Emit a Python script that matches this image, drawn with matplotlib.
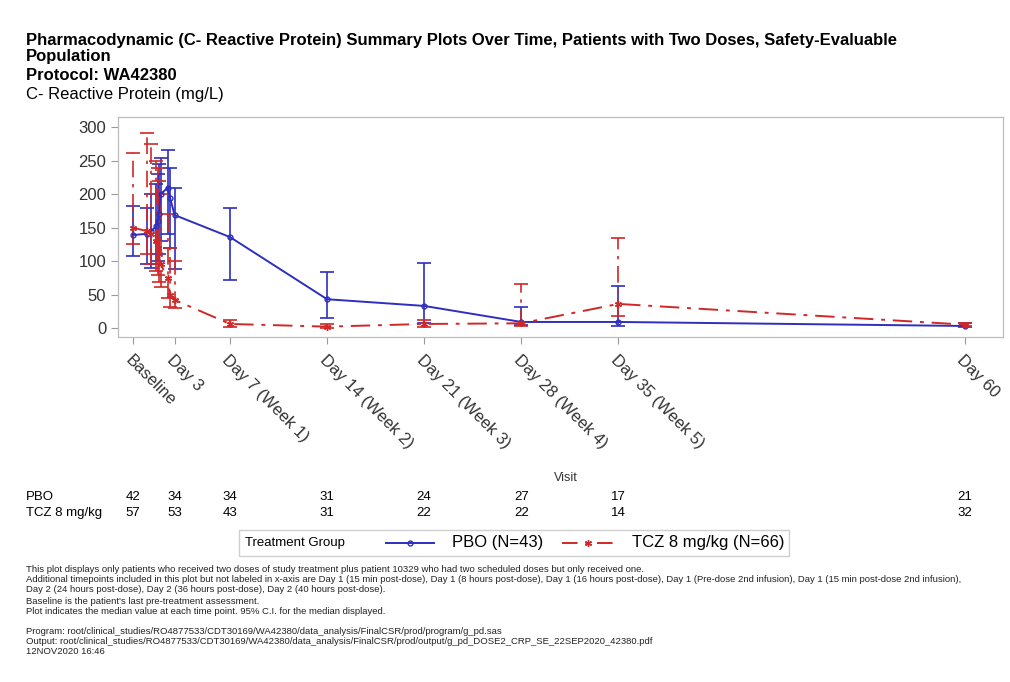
import matplotlib
matplotlib.use('Agg')
import matplotlib.pyplot as plt
import matplotlib.transforms as mtransforms
from matplotlib.lines import Line2D
from matplotlib.patches import Rectangle

plt.rcParams['font.family'] = ['Liberation Sans', 'DejaVu Sans']

# study day of each sampling visit (baseline = 0); Day 1 / Day 2 samples sit between Baseline and Day 3
visit_day = [0, 1.01, 1.33, 1.67, 1.8, 1.85, 2.0, 2.5, 2.67, 3, 7, 14, 21, 28, 35, 60]

# CRP median and 95% CI (mg/L)
pbo_med = [139, 141, 145, 152, 160, 170, 200, 210, 195, 169, 136, 43, 33, 9, 9, 3]
pbo_low = [108, 95, 90, 95, 100, 110, 130, 140, 120, 88, 72, 15, 7, 5, 3, 2]
pbo_high = [183, 180, 200, 215, 230, 245, 254, 267, 240, 209, 179, 84, 97, 31, 63, 7]

tcz_med = [150, 145, 140, 130, 120, 110, 95, 75, 50, 42, 6, 2, 6, 7, 36, 5]
tcz_low = [125, 110, 95, 85, 79, 69, 62, 45, 31, 30, 2, 0, 2, 3, 18, 3]
tcz_high = [262, 292, 275, 250, 240, 220, 200, 170, 120, 100, 12, 6, 12, 66, 134, 8]

tick_day = [0, 3, 7, 14, 21, 28, 35, 60]
tick_lab = ['Baseline', 'Day 3', 'Day 7 (Week 1)', 'Day 14 (Week 2)', 'Day 21 (Week 3)',
            'Day 28 (Week 4)', 'Day 35 (Week 5)', 'Day 60']
n_pbo = [42, 34, 34, 31, 24, 27, 17, 21]
n_tcz = [57, 53, 43, 31, 22, 22, 14, 32]

blue = '#2E2EC0'
red = '#D02828'
grey = '#BDBDBD'
W, H = 1010, 682


def fx(px):
    return px / W


def fy(py):
    return 1 - py / H


fig = plt.figure(figsize=(W / 100, H / 100), dpi=100)
ax = fig.add_axes([fx(118), fy(337), fx(1003) - fx(118), fy(117) - fy(337)])


def draw(med, low, high, color, ls, marker, ms, mfc):
    err = [[m - l for m, l in zip(med, low)], [h - m for m, h in zip(med, high)]]
    line, caps, bars = ax.errorbar(visit_day, med, yerr=err, color=color, lw=1.4,
                                   ls=ls, marker=marker, ms=ms, mfc=mfc, mec=color,
                                   capsize=5, capthick=1.2, elinewidth=1.2)
    if ls != '-':
        line.set_dashes([10, 4, 2, 4])
        for b in bars:
            b.set_linestyle((0, (10, 4, 2, 4)))
    return line


draw(pbo_med, pbo_low, pbo_high, blue, '-', 'o', 3.5, 'none')
draw(tcz_med, tcz_low, tcz_high, red, '-.', (6, 2, 0), 5, red)

ax.set_xlim(-1.08, 62.74)
ax.set_ylim(-13.5, 315.7)
ax.set_yticks([0, 50, 100, 150, 200, 250, 300])
ax.set_xticks(tick_day)
ax.set_xticklabels(tick_lab, rotation=-45, ha='left', va='top', rotation_mode='anchor')
ax.tick_params(axis='both', colors='#9A9A9A', labelcolor='#333333', labelsize=12,
               length=5, width=0.8)
ax.tick_params(axis='x', pad=6)
for s in ax.spines.values():
    s.set_color(grey)
    s.set_linewidth(0.9)

# titles
fig.text(fx(26), fy(40), 'Pharmacodynamic (C- Reactive Protein) Summary Plots Over Time, '
         'Patients with Two Doses, Safety-Evaluable', fontsize=12, fontweight='bold', va='center')
fig.text(fx(26), fy(57), 'Population', fontsize=12, fontweight='bold', va='center')
fig.text(fx(26), fy(76), 'Protocol: WA42380', fontsize=12, fontweight='bold', va='center')
fig.text(fx(26), fy(95), 'C- Reactive Protein (mg/L)', fontsize=12, va='center')

fig.text(fx(566), fy(478), 'Visit', fontsize=9, ha='center', va='center', color='#333333')

# numbers of patients per visit
tr = mtransforms.blended_transform_factory(ax.transData, fig.transFigure)
fig.text(fx(26), fy(497), 'PBO', fontsize=9.5, va='center')
fig.text(fx(26), fy(513), 'TCZ 8 mg/kg', fontsize=9.5, va='center')
for d, a, b in zip(tick_day, n_pbo, n_tcz):
    ax.text(d, fy(497), str(a), transform=tr, fontsize=9.5, ha='center', va='center')
    ax.text(d, fy(513), str(b), transform=tr, fontsize=9.5, ha='center', va='center')

# legend box
fig.add_artist(Rectangle((fx(239), fy(556)), fx(789) - fx(239), fy(530) - fy(556),
                         transform=fig.transFigure, fill=False, ec='#CFCFCF', lw=1))
ly = fy(543)
fig.text(fx(245), ly, 'Treatment Group', fontsize=9.5, va='center')
fig.add_artist(Line2D([fx(386), fx(410), fx(434)], [ly] * 3, transform=fig.transFigure,
                      color=blue, lw=1.4, marker='o', ms=3.5, mfc='none', markevery=[1]))
fig.text(fx(452), ly, 'PBO (N=43)', fontsize=12, va='center')
red_leg = Line2D([fx(562), fx(588), fx(614)], [ly] * 3, transform=fig.transFigure,
                 color=red, lw=1.4, marker=(6, 2, 0), ms=5, markevery=[1])
red_leg.set_dashes([8, 4, 2, 4])
fig.add_artist(red_leg)
fig.text(fx(632), ly, 'TCZ 8 mg/kg (N=66)', fontsize=12, va='center')

# footnotes
notes = [
    (569, 'This plot displays only patients who received two doses of study treatment plus patient 10329 '
          'who had two scheduled doses but only received one.'),
    (580, 'Additional timepoints included in this plot but not labeled in x-axis are Day 1 (15 min post-dose), '
          'Day 1 (8 hours post-dose), Day 1 (16 hours post-dose), Day 1 (Pre-dose 2nd infusion), '
          'Day 1 (15 min post-dose 2nd infusion),'),
    (590, 'Day 2 (24 hours post-dose), Day 2 (36 hours post-dose), Day 2 (40 hours post-dose).'),
    (601, "Baseline is the patient's last pre-treatment assessment."),
    (611, 'Plot indicates the median value at each time point. 95% C.I. for the median displayed.'),
    (632, 'Program: root/clinical_studies/RO4877533/CDT30169/WA42380/data_analysis/FinalCSR/prod/program/g_pd.sas'),
    (642, 'Output: root/clinical_studies/RO4877533/CDT30169/WA42380/data_analysis/FinalCSR/prod/output/'
          'g_pd_DOSE2_CRP_SE_22SEP2020_42380.pdf'),
    (652, '12NOV2020 16:46'),
]
for y, t in notes:
    fig.text(fx(26), fy(y), t, fontsize=6.8, va='center', color='#222222')

fig.savefig('out.png', dpi=100)
